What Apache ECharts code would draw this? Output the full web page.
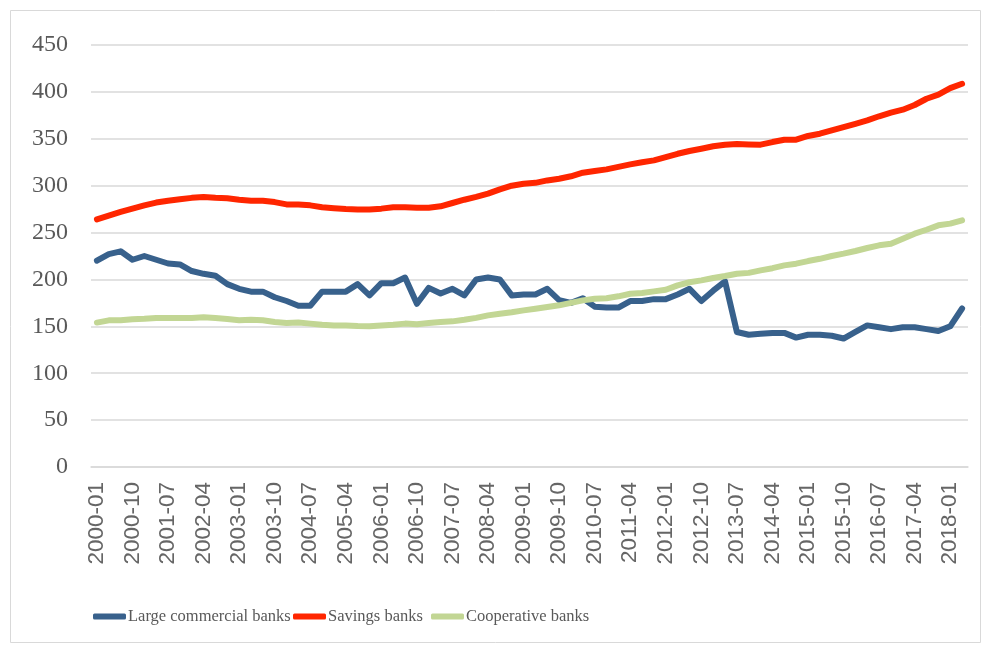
<!DOCTYPE html>
<html>
<head>
<meta charset="utf-8">
<script src="https://cdn.jsdelivr.net/npm/echarts@6/dist/echarts.min.js"></script>
<style>html,body{margin:0;padding:0;background:#fff}#c{width:990px;height:652px}</style>
</head>
<body>
<div id="c"></div>
<script>
// Quarterly categories 2000-01 .. 2018-04
const years = [];
for (let y = 2000; y <= 2018; y++) years.push(y);
const months = ["01", "04", "07", "10"];
const categories = [];
years.forEach(y => months.forEach(m => { if (!(y === 2018 && (m === "07" || m === "10"))) categories.push(y + "-" + m); }));

const largeCommercial = [220,227,230,221,225,221,217,216,209,206,204,195,190,187,187,181,177,172,172,187,
  187,187,195,183,196,196,202,174,191,185,190,183,200,202,200,183,184,184,190,178,
  175,180,171,170,170,177,177,179,179,184,190,177,188,198,144,141,142,143,143,138,
  141,141,140,137,144,151,149,147,149,149,147,145,150,169];
const savings = [264,268,272,275.5,279,282,284,285.5,287,288,287,286.5,285,284,284,282.5,280,280,279,277,
  276,275,274.5,274.5,275.5,277,277,276.5,276.5,278,281.5,285,288,291.5,296,300,302,303,305.6,307.4,
  310,313.8,315.6,317.4,320,322.7,325,327,330.5,334,337,339.4,342,343.7,344.5,344,343.7,346.5,349,349,
  353,355.4,359,362.5,366,369.6,374,377.8,381,386,392.7,397,404,408.7];
const cooperative = [154,156.4,156.4,157.5,158,158.8,158.8,158.8,158.8,159.6,158.8,157.8,156.4,157,156.4,154.6,153.5,154,152.9,151.8,
  151,151,150.3,150,151,151.8,152.9,152.3,153.5,154.6,155.3,157,159,161.7,163.5,165,167,168.8,170.6,172.4,
  175,177.7,179.5,180,182,184.8,185.5,187.3,189,193.7,197,199,201.5,203.6,206,207,209.7,212,215,216.8,
  219.6,222,225,227.5,230.3,233.5,236.4,238,243.5,248.8,253,257.7,259.5,263];
const seriesNames = ["Large commercial banks", "Savings banks", "Cooperative banks"];
const colors = ["#38618c", "#ff2600", "#c2d694"];
const yTicks = { min: 0, max: 450, interval: 50 };

const chart = echarts.init(document.getElementById('c'), null, { renderer: 'canvas' });
const serif = "'Liberation Serif', 'DejaVu Serif', serif";
const sans = "'Liberation Sans', Arial, sans-serif";
const dataSets = [largeCommercial, savings, cooperative];
const legendLefts = [88, 288, 426];

chart.setOption({
  animation: false,
  backgroundColor: '#ffffff',
  graphic: [{
    type: 'rect', silent: true,
    shape: { x: 10.5, y: 10.5, width: 970, height: 632 },
    style: { fill: 'none', stroke: '#d9d9d9', lineWidth: 1 }
  }],
  grid: { left: 91, right: 22, top: 45, bottom: 185, containLabel: false },
  legend: seriesNames.map((n, i) => ({
    data: [n], left: legendLefts[i], top: 603, icon: 'roundRect',
    itemWidth: 33, itemHeight: 6, itemGap: 0,
    textStyle: { fontFamily: serif, fontSize: 16.5, color: '#595959', padding: [0, 0, 0, -3] }
  })),
  xAxis: {
    type: 'category', data: categories, boundaryGap: true,
    axisLine: { show: true, lineStyle: { color: '#d9d9d9', width: 1.5 } },
    axisTick: { show: false },
    axisLabel: { interval: 2, rotate: 90, margin: 15, color: '#666666', fontFamily: sans, fontSize: 22.5 }
  },
  yAxis: {
    type: 'value', min: yTicks.min, max: yTicks.max, interval: yTicks.interval,
    axisLine: { show: false }, axisTick: { show: false },
    splitLine: { lineStyle: { color: '#d9d9d9', width: 1.5 } },
    axisLabel: { margin: 23, color: '#595959', fontFamily: serif, fontSize: 24 }
  },
  series: seriesNames.map((n, i) => ({
    name: n, type: 'line', data: dataSets[i], symbol: 'none', smooth: false,
    lineStyle: { color: colors[i], width: 6, cap: 'round', join: 'round' },
    itemStyle: { color: colors[i] }
  }))
});
</script>
</body>
</html>
